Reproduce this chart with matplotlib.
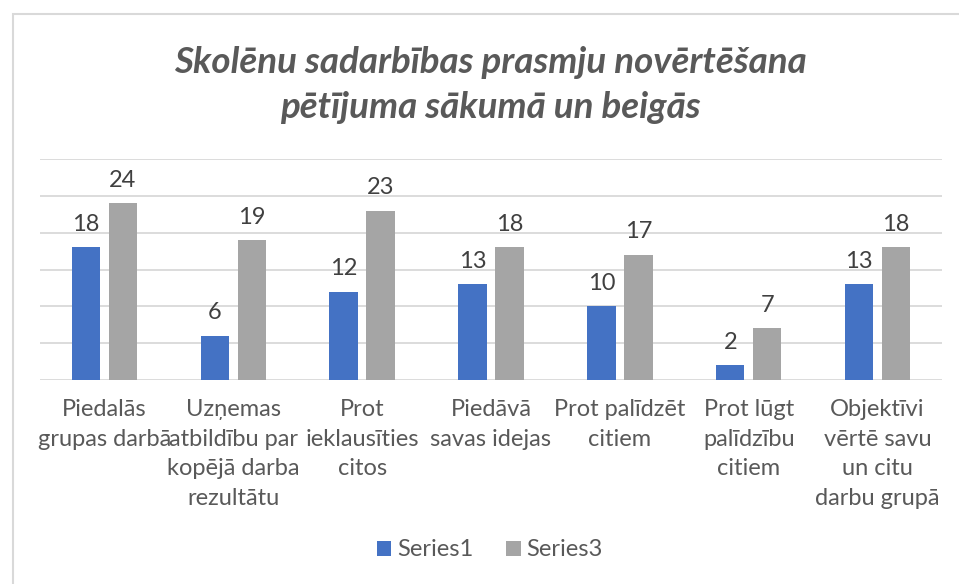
import matplotlib
matplotlib.use("Agg")
import matplotlib.pyplot as plt
from matplotlib.patches import Rectangle
import numpy as np

categories = [
    "Piedalās\ngrupas darbā",
    "Uzņemas\natbildību par\nkopējā darba\nrezultātu",
    "Prot\nieklausīties\ncitos",
    "Piedāvā\nsavas idejas",
    "Prot palīdzēt\ncitiem",
    "Prot lūgt\npalīdzību\ncitiem",
    "Objektīvi\nvērtē savu\nun citu\ndarbu grupā",
]
series1 = [18, 6, 12, 13, 10, 2, 13]
series3 = [24, 19, 23, 18, 17, 7, 18]

BLUE, GRAY = "#4472C4", "#A5A5A5"
TXT = "#595959"
GRID = "#D9D9D9"
plt.rcParams["font.family"] = ["Lato", "DejaVu Sans"]

W, H = 959, 584
fig = plt.figure(figsize=(W / 100, H / 100), dpi=100)
ax = fig.add_axes([40 / W, (H - 380) / H, (942 - 40) / W, (380 - 159) / H])

x = np.arange(len(categories))
bw, off = 0.22, 0.1436
b1 = ax.bar(x - off, series1, bw, color=BLUE, zorder=3)
b3 = ax.bar(x + off, series3, bw, color=GRAY, zorder=3)
for bars in (b1, b3):
    ax.bar_label(bars, padding=9, fontsize=17, color="#404040")

ax.set_xlim(-0.5, len(categories) - 0.5)
ax.set_ylim(0, 30)
ax.set_yticks(range(0, 31, 5))
ax.yaxis.grid(True, color=GRID, lw=1.3, zorder=0)
ax.tick_params(axis="y", left=False, labelleft=False)
ax.tick_params(axis="x", length=0, pad=14)
ax.set_xticks(x)
ax.set_xticklabels(categories, fontsize=17, color=TXT, linespacing=1.5)
for s in ax.spines.values():
    s.set_visible(False)

fig.text(490 / W, 1 - 85 / H, "Skolēnu sadarbības prasmju novērtēšana\npētījuma sākumā un beigās",
         ha="center", va="center", fontsize=26.5, fontstyle="italic", fontweight="bold",
         color=TXT, linespacing=1.45)

leg = fig.legend([b1, b3], ["Series1", "Series3"], loc="center", ncol=2,
                 bbox_to_anchor=(490 / W, 1 - 550 / H), frameon=False, fontsize=17,
                 handlelength=0.6, handleheight=0.6, handletextpad=0.25, columnspacing=1.4)
for t in leg.get_texts():
    t.set_color(TXT)

fig.patches.append(Rectangle((13 / W, -0.05), 1.2, 1 - 14 / H + 0.05, transform=fig.transFigure,
                             fill=False, ec=GRID, lw=1.5))

fig.savefig("out.png", dpi=100)
